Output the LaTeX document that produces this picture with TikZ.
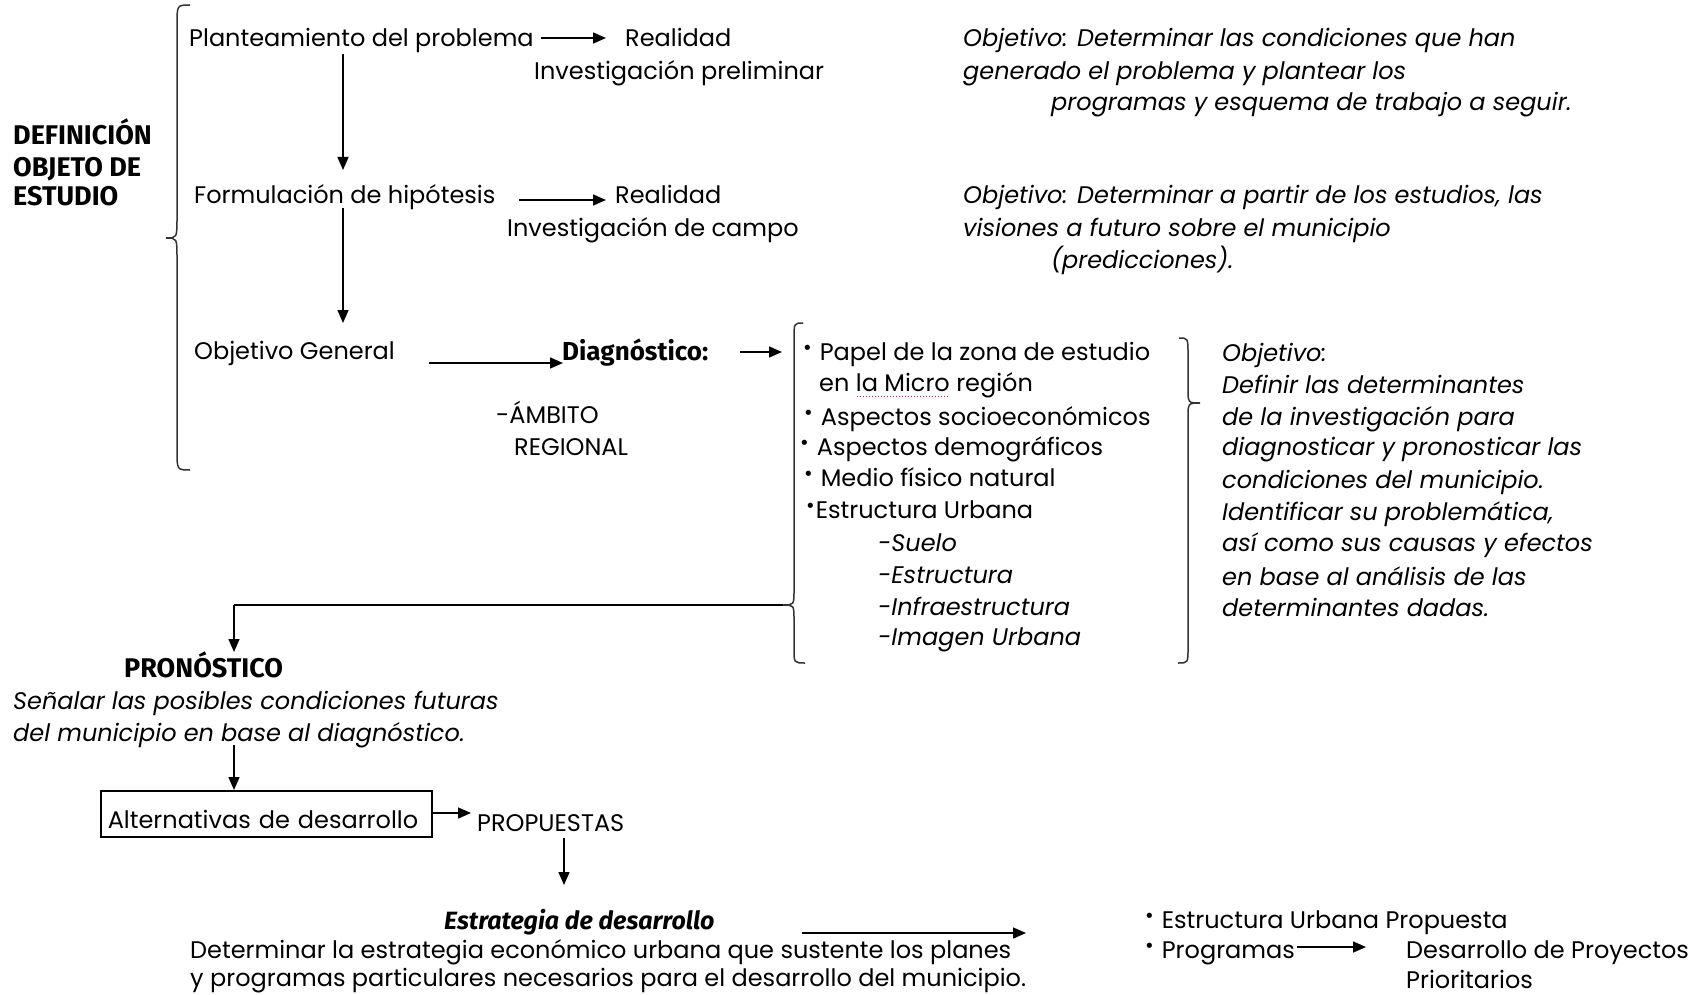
\documentclass[tikz,border=0pt]{standalone}
\usepackage{fontspec}
\setmainfont{Poppins}
\newfontfamily\firab{Fira Sans}
\newfontfamily\dejavu{DejaVu Sans}
\usetikzlibrary{arrows.meta,calc}
\newcommand\bul{\raisebox{6pt}{\dejavu\fontsize{18pt}{18pt}\selectfont •}}
\begin{document}
\begin{tikzpicture}[x=1pt,y=-1pt,
 font=\fontsize{24pt}{31pt}\selectfont,
 txt/.style={inner sep=0pt, anchor=west, text height=17pt, text depth=0pt},
 itx/.style={txt, font=\fontsize{24pt}{31pt}\selectfont\itshape},
 hb/.style={txt, text height=19pt, font=\firab\bfseries\fontsize{27pt}{31pt}\selectfont},
 bx/.style={txt, text height=18pt, font=\firab\bfseries\fontsize{26pt}{31pt}\selectfont},
 bix/.style={txt, text height=18pt, font=\firab\bfseries\itshape\fontsize{25pt}{31pt}\selectfont},
 arr/.style={draw=black, line width=1.5pt, -{Triangle[length=13pt,width=11pt]}},
 brc/.style={draw=black!80, line width=1.5pt},
]
\fill[white] (0,0) rectangle (1691,995);
\useasboundingbox (0,0) rectangle (1691,995);

% left title
\node[hb] (def1) at (13,135) {DEFINICIÓN};
\node[hb] (def2) at (13,167) {OBJETO DE};
\node[hb] (def3) at (13,196) {ESTUDIO};

% big brace
\draw[brc] (190,5) .. controls (177,5) .. (177,25) -- (177,218) .. controls (177,238) .. (166,238) .. controls (177,238) .. (177,258) -- (177,450) .. controls (177,470) .. (190,470);

% row 1
\node[txt] (plant) at (189,38) {Planteamiento del problema};
\node[txt] (real1) at (625,38) {Realidad};
\node[txt] (inv1) at (534,71) {Investigación preliminar};
\node[itx] (o1a) at (963,38) {Objetivo: Determinar las condiciones que han};
\node[itx] (o1b) at (963,71) {generado el problema y plantear los};
\node[itx] (o1c) at (1051,102) {programas y esquema de trabajo a seguir.};

% row 2
\node[txt] (form) at (194,195) {Formulación de hipótesis};
\node[txt] (real2) at (615,195) {Realidad};
\node[txt] (inv2) at (507,228) {Investigación de campo};
\node[itx] (o2a) at (963,195) {Objetivo: Determinar a partir de los estudios, las};
\node[itx] (o2b) at (963,228) {visiones a futuro sobre el municipio};
\node[itx] (o2c) at (1051,260) {(predicciones).};

% row 3
\node[txt] (objg) at (194,351) {Objetivo General};
\node[bx] (diag) at (562,351) {Diagnóstico:};
\node[txt] (amb) at (496,415) {-ÁMBITO};
\node[txt] (reg) at (514,447) {REGIONAL};

% list
\draw[brc] (803,323) .. controls (794,323) .. (794,340) -- (794,590) .. controls (794,605) .. (783,605) .. controls (794,605) .. (794,620) -- (794,648) .. controls (794,663) .. (805,663);
\coordinate (midtip) at (783,605);
\node[txt] (l1) at (802,352) {\bul\hspace{7pt}Papel de la zona de estudio};
\node[txt] (l1b) at (819,383) {en la Micro región};
\node[txt] (l2) at (803,417) {\bul\hspace{7pt}Aspectos socioeconómicos};
\node[txt] (l3) at (799,447) {\bul\hspace{7pt}Aspectos demográficos};
\node[txt] (l4) at (803,478) {\bul\hspace{7pt}Medio físico natural};
\node[txt] (l5) at (805,510) {\bul\hspace{0pt}Estructura Urbana};
\node[itx] (s1) at (878,543) {-Suelo};
\node[itx] (s2) at (878,575) {-Estructura};
\node[itx] (s3) at (878,607) {-Infraestructura};
\node[itx] (s4) at (878,637) {-Imagen Urbana};
\draw[magenta, dotted, line width=1pt] ($(l1b.west)+(38,13)$) -- ($(l1b.west)+(131,13)$);

% right brace + objective
\draw[brc] (1179,338) .. controls (1188,338) .. (1188,355) -- (1188,388) .. controls (1188,403) .. (1200,403) .. controls (1188,403) .. (1188,418) -- (1188,648) .. controls (1188,663) .. (1178,663);
\node[itx] (r1) at (1222,353) {Objetivo:};
\node[itx] (r2) at (1222,385) {Definir las determinantes};
\node[itx] (r3) at (1222,417) {de la investigación para};
\node[itx] (r4) at (1222,447) {diagnosticar y pronosticar las};
\node[itx] (r5) at (1222,480) {condiciones del municipio.};
\node[itx] (r6) at (1222,512) {Identificar su problemática,};
\node[itx] (r7) at (1222,543) {así como sus causas y efectos};
\node[itx] (r8) at (1222,577) {en base al análisis de las};
\node[itx] (r9) at (1222,608) {determinantes dadas.};

% pronostico
\node[hb] (prono) at (124,668) {PRONÓSTICO};
\node[itx] (sen1) at (13,701) {Señalar las posibles condiciones futuras};
\node[itx] (sen2) at (13,733) {del municipio en base al diagnóstico.};

\node[draw, line width=1.5pt, inner xsep=7pt, inner ysep=0pt, text height=38pt, text depth=8pt,
      text width=317pt, align=left, anchor=north west] (alt) at (100,790) {Alternativas de desarrollo};
\node[txt] (prop) at (477,823) {PROPUESTAS};

\node[bix] (estr) at (444,920) {Estrategia de desarrollo};
\node[txt] (det1) at (190,950) {Determinar la estrategia económico urbana que sustente los planes};
\node[txt] (det2) at (190,978) {y programas particulares necesarios para el desarrollo del municipio.};

\node[txt] (eu) at (1144,920) {\bul\hspace{7pt}Estructura Urbana Propuesta};
\node[txt] (prog) at (1144,950) {\bul\hspace{7pt}Programas};
\node[txt] (des) at (1406,950) {Desarrollo de Proyectos};
\node[txt] (pri) at (1406,980) {Prioritarios};

% arrows
\draw[arr] ($(real1.west)+(-84,0)$) -- ($(real1.west)+(-19,0)$);
\draw[arr] ($(plant.west)+(154,16)$) -- ($(form.west)+(149,-25)$);
\draw[arr] ($(real2.west)+(-96,5)$) -- ($(real2.west)+(-9,5)$);
\draw[arr] ($(form.west)+(149,13)$) -- ($(objg.west)+(149,-28)$);
\draw[arr] ($(diag.west)+(-133,12)$) -- ($(diag.west)+(1,12)$);
\draw[arr] ($(diag.west)+(178,1)$) -- ($(l1.west)+(-20,0)$);
\draw[line width=1.5pt] (midtip) -- ($(prono.west)+(110,-63)$);
\draw[arr] ($(prono.west)+(110,-63)$) -- ($(prono.west)+(110,-16)$);
\draw[arr] ($(sen2.west)+(221,12)$) -- ($(alt.north west)+(134,0)$);
\draw[arr] ($(alt.north east)+(0,23)$) -- ($(prop.west)+(-6,-10)$);
\draw[arr] ($(prop.west)+(87,15)$) -- ($(estr.west)+(120,-35)$);
\draw[arr] ($(det1.west)+(612,-17)$) -- ($(eu.west)+(-118,13)$);
\draw[arr] ($(prog.east)+(2,-3)$) -- ($(des.west)+(-40,-3)$);
\end{tikzpicture}
\end{document}
